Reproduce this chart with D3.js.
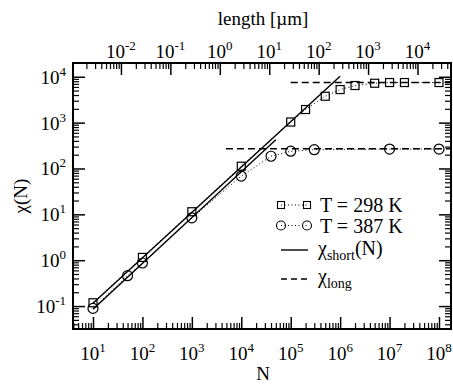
<!DOCTYPE html>
<html><head><meta charset="utf-8">
<script src="https://cdn.jsdelivr.net/npm/d3@7"></script>
<style>body{margin:0;background:#fff}</style>
</head><body><svg id="c" width="453" height="385"></svg>
<script>
// tick exponents
const nTickExp = [1,2,3,4,5,6,7,8];
const chiTickExp = [-1,0,1,2,3,4];
const lenTickExp = [-2,-1,0,1,2,3,4];
const umPerUnit = 2.72e-4; // length [µm] per unit N

// T = 298 K
const n298 = [10,100,1000,1e4,1e5,2e5,5e5,1e6,2e6,5e6,1e7,2e7,1e8];
const chi298 = [0.118,1.15,11.4,112,1030,1930,3760,5260,6440,7220,7480,7480,7480];
// T = 387 K
const n387 = [10,50,100,1000,1e4,4e4,1e5,3e5,1e7,1e8];
const chi387 = [0.089,0.46,0.87,8.4,68,185,238,257,265,265];
// chi_short(N)
const shortN298 = [10,1e6];
const shortChi298 = [0.115,10230];
const shortN387 = [10,5e4];
const shortChi387 = [0.085,425];
// chi_long
const longN298 = [1e5,1.75e8];
const longChi298 = [7500,7500];
const longN387 = [4.9e3,1.75e8];
const longChi387 = [270,270];

const legendLabels = ["T = 298 K","T = 387 K"];

const FONT = "'Liberation Serif', 'Times New Roman', Times, 'DejaVu Serif', serif";
const svg = d3.select("#c");
const L=73,R=451,T=63,B=329;
const x = d3.scaleLog().domain([3.94,1.75e8]).range([L,R]);
const y = d3.scaleLog().domain([Math.pow(10,-1.5),Math.pow(10,4.3)]).range([B,T]);
const xt = d3.scaleLog().domain([3.94*umPerUnit,1.75e8*umPerUnit]).range([L,R]);

function minors(scale){
  const [a,b]=scale.domain(); const out=[];
  for(let e=Math.floor(Math.log10(a));e<=Math.ceil(Math.log10(b));e++){
    for(let m=2;m<=9;m++){const v=m*Math.pow(10,e); if(v>=a&&v<=b) out.push(v);}
  }
  return out;
}
const majX = nTickExp.map(e=>Math.pow(10,e));
const majY = chiTickExp.map(e=>Math.pow(10,e));
const majT = lenTickExp.map(e=>Math.pow(10,e));

function drawAxis(axisFn, scale, tr, majors){
  svg.append("g").attr("transform",tr)
    .call(axisFn(scale).tickValues(minors(scale)).tickSize(-6).tickSizeOuter(0).tickFormat(""))
    .call(g=>{g.select(".domain").remove(); g.selectAll("line").attr("stroke","#000").attr("stroke-width",1.2);});
  svg.append("g").attr("transform",tr)
    .call(axisFn(scale).tickValues(majors).tickSize(-12).tickSizeOuter(0).tickFormat(""))
    .call(g=>{g.select(".domain").remove(); g.selectAll("line").attr("stroke","#000").attr("stroke-width",1.5);});
}
drawAxis(d3.axisBottom, x, `translate(0,${B})`, majX);
drawAxis(d3.axisTop, xt, `translate(0,${T})`, majT);
drawAxis(d3.axisLeft, y, `translate(${L},0)`, majY);
drawAxis(d3.axisRight, y, `translate(${R},0)`, majY);

svg.append("rect").attr("x",L).attr("y",T).attr("width",R-L).attr("height",B-T)
  .attr("fill","none").attr("stroke","#000").attr("stroke-width",2);

function txt(sel){ return sel.style("font-family",FONT).attr("fill","#000"); }
function powLabel(xx,yy,exp,anchor){
  const t=txt(svg.append("text")).attr("x",xx).attr("y",yy).attr("text-anchor",anchor).attr("font-size",19);
  t.append("tspan").text("10");
  t.append("tspan").attr("font-size",13).attr("dy",-8).text(exp<0?"-"+(-exp):String(exp));
}
nTickExp.forEach(e=>powLabel(x(Math.pow(10,e)),360,e,"middle"));
lenTickExp.forEach(e=>powLabel(xt(Math.pow(10,e)),58,e,"middle"));
chiTickExp.forEach(e=>powLabel(66,y(Math.pow(10,e))+7,e,"end"));

txt(svg.append("text")).attr("x",263).attr("y",380).attr("text-anchor","middle").attr("font-size",19).text("N");
txt(svg.append("text")).attr("x",263).attr("y",25).attr("text-anchor","middle").attr("font-size",19).text("length [µm]");
txt(svg.append("text")).attr("transform","translate(27,196) rotate(-90)").attr("text-anchor","middle").attr("font-size",19).text("χ(N)");

svg.append("defs").append("clipPath").attr("id","pc").append("rect")
  .attr("x",L).attr("y",T).attr("width",R-L).attr("height",B-T);
const plot = svg.append("g").attr("clip-path","url(#pc)");
const line = d3.line().x(d=>x(d[0])).y(d=>y(d[1]));
const zip=(a,b)=>a.map((v,i)=>[v,b[i]]);

plot.append("path").attr("d",line(zip(shortN298,shortChi298))).attr("fill","none").attr("stroke","#000").attr("stroke-width",1.4);
plot.append("path").attr("d",line(zip(shortN387,shortChi387))).attr("fill","none").attr("stroke","#000").attr("stroke-width",1.4);
plot.append("path").attr("d",line(zip(longN298,longChi298))).attr("fill","none").attr("stroke","#000").attr("stroke-width",1.4).attr("stroke-dasharray","7,4");
plot.append("path").attr("d",line(zip(longN387,longChi387))).attr("fill","none").attr("stroke","#000").attr("stroke-width",1.4).attr("stroke-dasharray","7,4");
plot.append("path").attr("d",line(zip(n298,chi298))).attr("fill","none").attr("stroke","#000").attr("stroke-width",1).attr("stroke-dasharray","1,2.5");
plot.append("path").attr("d",line(zip(n387,chi387))).attr("fill","none").attr("stroke","#000").attr("stroke-width",1).attr("stroke-dasharray","1,2.5");

const sq=8, cr=5;
svg.append("g").selectAll("rect").data(zip(n298,chi298)).join("rect")
  .attr("x",d=>x(d[0])-sq/2).attr("y",d=>y(d[1])-sq/2).attr("width",sq).attr("height",sq)
  .attr("fill","none").attr("stroke","#000").attr("stroke-width",1.2);
svg.append("g").selectAll("circle").data(zip(n387,chi387)).join("circle")
  .attr("cx",d=>x(d[0])).attr("cy",d=>y(d[1])).attr("r",cr)
  .attr("fill","none").attr("stroke","#000").attr("stroke-width",1.2);

// legend
const lx1=281, lx2=307, tx=320;
const lg=svg.append("g");
[205,225.5].forEach((yy,i)=>{
  lg.append("line").attr("x1",lx1).attr("x2",lx2).attr("y1",yy).attr("y2",yy).attr("stroke","#000").attr("stroke-width",1).attr("stroke-dasharray","1,2.5");
  [lx1,lx2].forEach(xx=>{
    if(i===0) lg.append("rect").attr("x",xx-3.5).attr("y",yy-3.5).attr("width",7).attr("height",7).attr("fill","none").attr("stroke","#000").attr("stroke-width",1.1);
    else lg.append("circle").attr("cx",xx).attr("cy",yy).attr("r",4.5).attr("fill","none").attr("stroke","#000").attr("stroke-width",1.1);
  });
  txt(lg.append("text")).attr("x",tx).attr("y",yy+7).attr("font-size",20).text(legendLabels[i]);
});
lg.append("line").attr("x1",lx1).attr("x2",lx2+1).attr("y1",250).attr("y2",250).attr("stroke","#000").attr("stroke-width",1.4);
const t3=txt(lg.append("text")).attr("x",tx-2).attr("y",255).attr("font-size",20);
t3.append("tspan").text("χ");
t3.append("tspan").attr("font-size",14).attr("dy",5).text("short");
t3.append("tspan").attr("dy",-5).text("(N)");
lg.append("line").attr("x1",lx1).attr("x2",lx2+1).attr("y1",279).attr("y2",279).attr("stroke","#000").attr("stroke-width",1.4).attr("stroke-dasharray","6,4");
const t4=txt(lg.append("text")).attr("x",tx-2).attr("y",283).attr("font-size",20);
t4.append("tspan").text("χ");
t4.append("tspan").attr("font-size",14).attr("dy",5).text("long");
</script></body></html>
